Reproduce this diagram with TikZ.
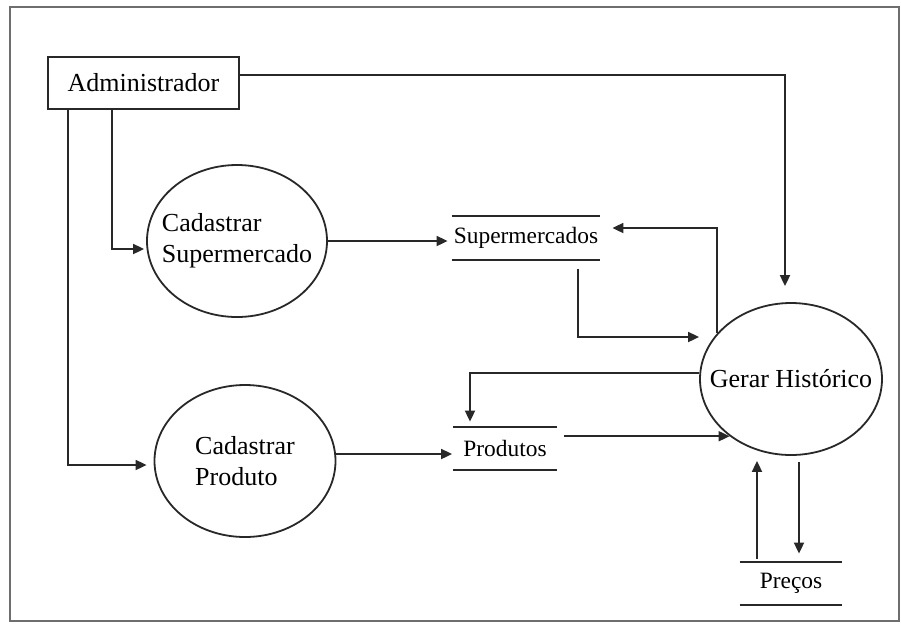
\documentclass[tikz,border=0pt]{standalone}
\usepackage{fontspec}
\setmainfont{Liberation Serif}
\usetikzlibrary{arrows.meta,positioning,shapes.geometric,calc}
\definecolor{dfdline}{RGB}{40,40,40}
\definecolor{dfdframe}{RGB}{110,110,110}
\tikzset{
  proc/.style={draw=dfdline, ellipse, line width=0.9pt, inner sep=0pt,
               minimum height=76pt,
               label={[font=\fontsize{13}{15.5}\selectfont, align=left]center:#1}},
  ent/.style={draw=dfdline, line width=0.9pt, font=\fontsize{13}{15.5}\selectfont,
              minimum width=95.5pt, minimum height=26pt, inner sep=0pt},
  store/.style={font=\fontsize{11.7}{14}\selectfont, inner sep=0pt,
                minimum height=21.5pt,
                append after command={
                  (\tikzlastnode.north west) edge[draw=dfdline, line width=1pt] (\tikzlastnode.north east)
                  (\tikzlastnode.south west) edge[draw=dfdline, line width=1pt] (\tikzlastnode.south east)}},
  flow/.style={draw=dfdline, line width=0.9pt, -{Triangle[length=5.5pt,width=5pt]}},
}
\begin{document}
\begin{tikzpicture}[x=0.5pt, y=-0.5pt]
\useasboundingbox (0,0) rectangle (901,623);

% --- frame ---
\draw[dfdframe, line width=1pt] (10,7) rectangle (899,621);

% --- entity and processes ---
\node[ent] (adm) at (143.5,83) {Administrador\hspace{6pt}};
\node[proc={Cadastrar\\Supermercado}, minimum width=90pt] (cs) at (237,241) {};
\node[proc={Cadastrar\\Produto}, minimum width=90.5pt] (cp) at (245,461) {};
\node[proc={Gerar Histórico}, minimum width=91pt] (ger) at (791,379) {};

% --- data stores ---
\node[store, minimum width=74pt] (sup) at (526,238) {Supermercados};
\node[store, minimum width=51.5pt] (prod) at (505,448.5) {Produtos};
\node[store, minimum width=51pt] (prc) at (791,583.5) {Preços};

% --- flows from Administrador ---
\draw[flow, shorten >=8pt] ([yshift=4pt]adm.east) -| ([xshift=-3pt]ger.north);
\draw[flow, shorten >=1pt] ([xshift=-15.75pt]adm.south) |- ([yshift=-4pt]cs.west);
\draw[flow, shorten >=3.5pt] ([xshift=-37.75pt]adm.south) |- ([yshift=-2pt]cp.west);

% --- Supermercados ---
\draw[flow, shorten >=2pt] (cs.east) -- (cs.east -| sup.west);
\draw[flow, shorten >=6pt] (ger.148) |- ([yshift=5pt]sup.east);
\draw[flow] ([xshift=26pt,yshift=-4.5pt]sup.south) |- ([yshift=21pt]ger.west);

% --- Produtos ---
\draw[flow, shorten >=0.5pt] ([yshift=3.5pt]cp.east) -- ([yshift=3.5pt]cp.east -| prod.west);
\draw[flow, shorten >=2.5pt] ([yshift=3pt]ger.west) -| ([xshift=-17.5pt]prod.north);
\draw[flow, shorten <=3.5pt] (prod.east |- ger.223) -- (ger.223);

% --- Preços ---
\draw[flow, shorten <=3pt, shorten >=4pt] ([xshift=4pt]ger.south) -- ([xshift=4pt]prc.north);
\draw[flow, shorten <=1.5pt, shorten >=2.5pt] ([xshift=-17pt]prc.north) -- ([xshift=-17pt]prc.north |- ger.south);

\end{tikzpicture}
\end{document}
